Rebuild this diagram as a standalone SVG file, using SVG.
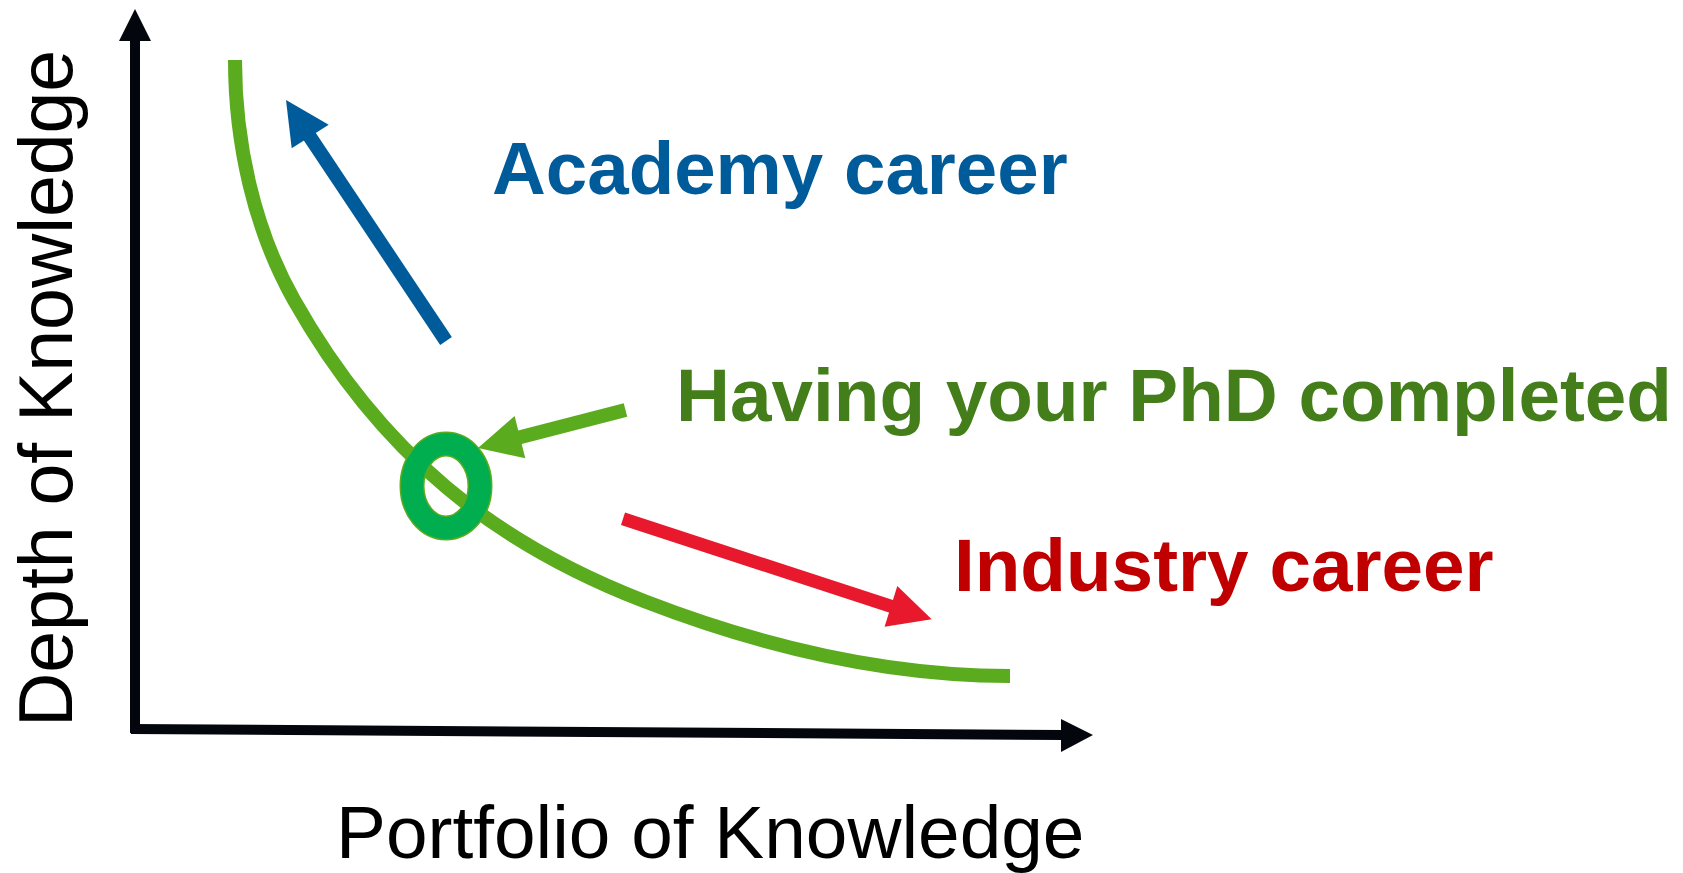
<svg xmlns="http://www.w3.org/2000/svg" width="1683" height="873" viewBox="0 0 1683 873">
<style>
.lbl{font-family:"Liberation Sans",Arial,sans-serif;font-size:74.7px}
.b{font-weight:bold}
.axis{stroke:#03070d;stroke-width:10;fill:none}
.head-axis{fill:#03070d}
</style>
<rect width="1683" height="873" fill="#ffffff"/>
<g id="axes">
<line class="axis" x1="135" y1="733" x2="135" y2="38"/>
<polygon class="head-axis" points="135,9 151,41 119,41"/>
<line class="axis" x1="131" y1="729" x2="1064" y2="735"/>
<polygon class="head-axis" points="1093,735 1061,719 1061,752"/>
</g>
<g id="curve">
<path d="M235,60 C235,142 253.8,228.7 294,300 C333.2,369.6 385.2,435.8 446,487 C503.8,535.6 573.3,573.6 644,601 C759.3,645.6 885,676 1010,676" fill="none" stroke="#5bab1f" stroke-width="14"/>
</g>
<g id="ring">
<ellipse cx="446" cy="486" rx="34" ry="42" fill="none" stroke="#5bab1f" stroke-width="25"/>
<ellipse cx="446" cy="486" rx="34" ry="42" fill="none" stroke="#00ae4f" stroke-width="22"/>
</g>
<g id="connectors">
<g id="arrow-academy">
<line x1="446" y1="341" x2="308" y2="134" stroke="#005b9a" stroke-width="14"/>
<polygon points="286,100 328.7,124.7 291.7,148.3" fill="#005b9a"/>
</g>
<g id="arrow-phd">
<line x1="625.5" y1="410" x2="517" y2="438" stroke="#5bab1f" stroke-width="14"/>
<polygon points="478,448 514.6,416 525.3,458.3" fill="#5bab1f"/>
</g>
<g id="arrow-industry">
<line x1="623" y1="518.7" x2="894" y2="607.3" stroke="#e8192d" stroke-width="13"/>
<polygon points="931.7,619.3 897.3,586 884.6,626.7" fill="#e8192d"/>
</g>
</g>
<g id="label-academy"><text class="lbl b" x="492" y="194" fill="#005b9a" style="font-size:74.5px">Academy career</text></g>
<g id="label-phd"><text class="lbl b" x="676" y="421" fill="#437e1a">Having your PhD completed</text></g>
<g id="label-industry"><text class="lbl b" x="954" y="591" fill="#c00000">Industry career</text></g>
<g id="label-x"><text class="lbl" x="336" y="858" fill="#000000" style="font-size:74.8px">Portfolio of Knowledge</text></g>
<g id="label-y"><text class="lbl" transform="translate(71.5,727) rotate(-90)" fill="#000000" style="font-size:75.2px">Depth of Knowledge</text></g>
</svg>
